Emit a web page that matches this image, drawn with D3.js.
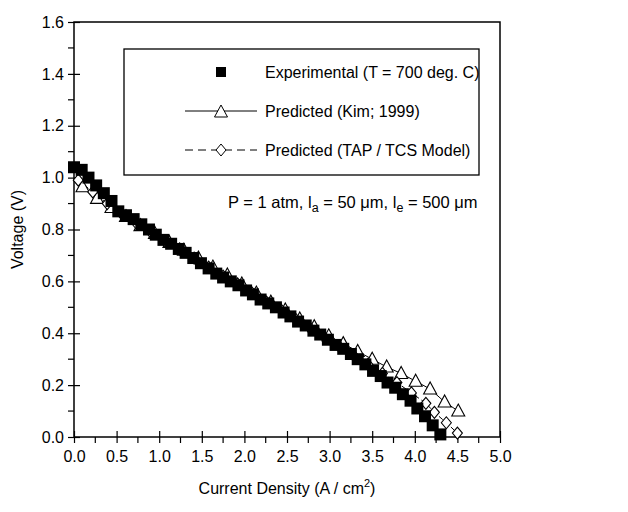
<!DOCTYPE html>
<html>
<head>
<meta charset="utf-8">
<script src="https://cdn.jsdelivr.net/npm/d3@7"></script>
<style>
  body { margin: 0; background: #fff; }
  svg { font-family: "Liberation Sans", Arial, sans-serif; }
</style>
</head>
<body>
<div id="chart"></div>
<script>
// Experimental (T = 700 deg. C)
const expX = [0.00, 0.09, 0.17, 0.26, 0.35, 0.44, 0.52, 0.61, 0.70, 0.79, 0.88, 0.96, 1.05, 1.14, 1.23, 1.31, 1.40, 1.49, 1.58, 1.67, 1.75, 1.84, 1.93, 2.02, 2.10, 2.19, 2.28, 2.37, 2.46, 2.54, 2.63, 2.72, 2.81, 2.89, 2.98, 3.07, 3.16, 3.25, 3.33, 3.42, 3.51, 3.60, 3.68, 3.77, 3.86, 3.95, 4.03, 4.12, 4.21, 4.30]
const expV = [1.04, 1.03, 1.00, 0.97, 0.94, 0.91, 0.87, 0.855, 0.84, 0.82, 0.80, 0.78, 0.76, 0.745, 0.725, 0.71, 0.69, 0.67, 0.65, 0.63, 0.615, 0.60, 0.585, 0.565, 0.55, 0.53, 0.515, 0.50, 0.48, 0.465, 0.445, 0.43, 0.41, 0.395, 0.375, 0.355, 0.34, 0.32, 0.30, 0.28, 0.255, 0.235, 0.21, 0.19, 0.165, 0.14, 0.11, 0.08, 0.045, 0.01]

// Predicted (Kim; 1999)
const kimX = [0.10, 0.27, 0.44, 0.61, 0.78, 0.95, 1.12, 1.29, 1.46, 1.63, 1.80, 1.97, 2.14, 2.31, 2.48, 2.65, 2.82, 2.99, 3.16, 3.33, 3.50, 3.67, 3.84, 4.01, 4.18, 4.35, 4.51]
const kimV = [0.965, 0.92, 0.885, 0.85, 0.815, 0.785, 0.75, 0.72, 0.69, 0.655, 0.625, 0.59, 0.555, 0.52, 0.49, 0.455, 0.425, 0.39, 0.36, 0.33, 0.30, 0.27, 0.245, 0.215, 0.185, 0.135, 0.10]

// Predicted (TAP / TCS Model)
const tapX = [0.05, 0.22, 0.39, 0.56, 0.73, 0.90, 1.07, 1.24, 1.41, 1.58, 1.75, 1.92, 2.09, 2.26, 2.43, 2.60, 2.77, 2.94, 3.11, 3.28, 3.45, 3.62, 3.79, 3.96, 4.13, 4.23, 4.37, 4.50]
const tapV = [0.99, 0.945, 0.90, 0.86, 0.825, 0.79, 0.755, 0.725, 0.69, 0.655, 0.62, 0.59, 0.555, 0.52, 0.49, 0.455, 0.42, 0.385, 0.35, 0.315, 0.28, 0.245, 0.21, 0.17, 0.13, 0.095, 0.055, 0.015]

// Ticks
const xTicks = [0, 0.5, 1, 1.5, 2, 2.5, 3, 3.5, 4, 4.5, 5]
const yTicks = [0, 0.2, 0.4, 0.6, 0.8, 1.0, 1.2, 1.4, 1.6]

const width = 628,
height = 512
const mLeft = 74, mRight = 500, mTop = 22, mBottom = 437
const fs = 16

let svg = d3.select('#chart')
.append('svg')
.attr('width', width)
.attr('height', height)

const xScale = d3.scaleLinear().domain([0, 5]).range([mLeft, mRight])
const yScale = d3.scaleLinear().domain([0, 1.6]).range([mBottom, mTop])

// minor ticks (outside only)
const xMinor = d3.range(0.25, 5, 0.5)
const yMinor = d3.range(0.1, 1.6, 0.2)

svg.append('g')
.selectAll('line')
.data(xMinor)
.enter()
.append('line')
.attr('x1', d => xScale(d)).attr('x2', d => xScale(d))
.attr('y1', mBottom).attr('y2', mBottom + 6)
.attr('stroke', '#000').attr('stroke-width', 1.2)

svg.append('g')
.selectAll('line')
.data(yMinor)
.enter()
.append('line')
.attr('x1', mLeft - 6).attr('x2', mLeft)
.attr('y1', d => yScale(d)).attr('y2', d => yScale(d))
.attr('stroke', '#000').attr('stroke-width', 1.2)

// major ticks cross the axis
const xAxis = d3.axisBottom(xScale).tickValues(xTicks).tickFormat(d3.format('.1f')).tickSizeOuter(0)
const yAxis = d3.axisLeft(yScale).tickValues(yTicks).tickFormat(d3.format('.1f')).tickSizeOuter(0)

let gx = svg.append('g')
.attr('transform', `translate(0,${mBottom})`)
.call(xAxis)
gx.selectAll('.tick line').attr('y1', -6).attr('y2', 6).attr('stroke-width', 1.2)
gx.selectAll('.tick text').attr('y', 14).attr('font-size', fs).attr('font-family', 'Liberation Sans, Arial, sans-serif').attr('fill', '#000')

let gy = svg.append('g')
.attr('transform', `translate(${mLeft},0)`)
.call(yAxis)
gy.selectAll('.tick line').attr('x1', -6).attr('x2', 6).attr('stroke-width', 1.2)
gy.selectAll('.tick text').attr('x', -10).attr('font-size', fs).attr('font-family', 'Liberation Sans, Arial, sans-serif').attr('fill', '#000')

svg.selectAll('.domain').remove()

// frame
svg.append('rect')
.attr('x', mLeft).attr('y', mTop)
.attr('width', mRight - mLeft).attr('height', mBottom - mTop)
.attr('fill', 'none').attr('stroke', '#000').attr('stroke-width', 1.5)

// markers
const tri = 'M0,-7L6.5,5L-6.5,5Z'
const dia = 'M0,-6L5,0L0,6L-5,0Z'

const line = d3.line()
.x(d => xScale(d[0]))
.y(d => yScale(d[1]))

const kimPts = kimX.map((x, i) => [x, kimV[i]])
const tapPts = tapX.map((x, i) => [x, tapV[i]])
const expPts = expX.map((x, i) => [x, expV[i]])

svg.append('path')
.attr('d', line(kimPts))
.attr('fill', 'none').attr('stroke', '#000').attr('stroke-width', 1)

svg.append('path')
.attr('d', line(tapPts))
.attr('fill', 'none').attr('stroke', '#000').attr('stroke-width', 1)
.attr('stroke-dasharray', '5,3')

svg.selectAll('.tri')
.data(kimPts)
.enter()
.append('path')
.attr('class', 'tri')
.attr('d', tri)
.attr('transform', d => `translate(${xScale(d[0])},${yScale(d[1])})`)
.attr('fill', '#fff').attr('stroke', '#000').attr('stroke-width', 1.1)

svg.selectAll('.dia')
.data(tapPts)
.enter()
.append('path')
.attr('class', 'dia')
.attr('d', dia)
.attr('transform', d => `translate(${xScale(d[0])},${yScale(d[1])})`)
.attr('fill', '#fff').attr('stroke', '#000').attr('stroke-width', 1.1)

svg.selectAll('.sq')
.data(expPts)
.enter()
.append('rect')
.attr('class', 'sq')
.attr('x', d => xScale(d[0]) - 6)
.attr('y', d => yScale(d[1]) - 6)
.attr('width', 12).attr('height', 12)
.attr('fill', '#000')

// legend
svg.append('rect')
.attr('x', 124).attr('y', 49)
.attr('width', 355).attr('height', 126)
.attr('fill', '#fff').attr('stroke', '#000').attr('stroke-width', 1.3)

const legendRows = [
  {label: 'Experimental (T = 700 deg. C)', y: 72},
  {label: 'Predicted (Kim; 1999)', y: 111},
  {label: 'Predicted (TAP / TCS Model)', y: 150}
]

let lg = svg.append('g')
lg.append('rect').attr('x', 216).attr('y', 67).attr('width', 10).attr('height', 10).attr('fill', '#000')
lg.append('line').attr('x1', 185).attr('x2', 257).attr('y1', 111).attr('y2', 111).attr('stroke', '#000')
lg.append('path').attr('d', tri).attr('transform', 'translate(221,112)').attr('fill', '#fff').attr('stroke', '#000')
lg.append('line').attr('x1', 185).attr('x2', 257).attr('y1', 150).attr('y2', 150).attr('stroke', '#000').attr('stroke-dasharray', '8,5')
lg.append('path').attr('d', dia).attr('transform', 'translate(221,150)').attr('fill', '#fff').attr('stroke', '#000')

lg.selectAll('text')
.data(legendRows)
.enter()
.append('text')
.attr('x', 265)
.attr('y', d => d.y + 6)
.attr('font-size', fs)
.text(d => d.label)

// annotation
let note = svg.append('text').attr('x', 228).attr('y', 208).attr('font-size', 16.5)
note.append('tspan').text('P = 1 atm, l')
note.append('tspan').attr('dy', 4).attr('font-size', 12.5).text('a')
note.append('tspan').attr('dy', -4).text(' = 50 \u03bcm, l')
note.append('tspan').attr('dy', 4).attr('font-size', 12.5).text('e')
note.append('tspan').attr('dy', -4).text(' = 500 \u03bcm')

// axis titles
let xt = svg.append('text').attr('x', 287).attr('y', 494).attr('text-anchor', 'middle').attr('font-size', fs)
xt.append('tspan').text('Current Density (A / cm')
xt.append('tspan').attr('dy', -7).attr('font-size', 11).text('2')
xt.append('tspan').attr('dy', 7).text(')')

svg.append('text')
.attr('transform', `translate(23,${(mTop + mBottom) / 2}) rotate(-90)`)
.attr('text-anchor', 'middle')
.attr('font-size', fs)
.text('Voltage (V)')
</script>
</body>
</html>
